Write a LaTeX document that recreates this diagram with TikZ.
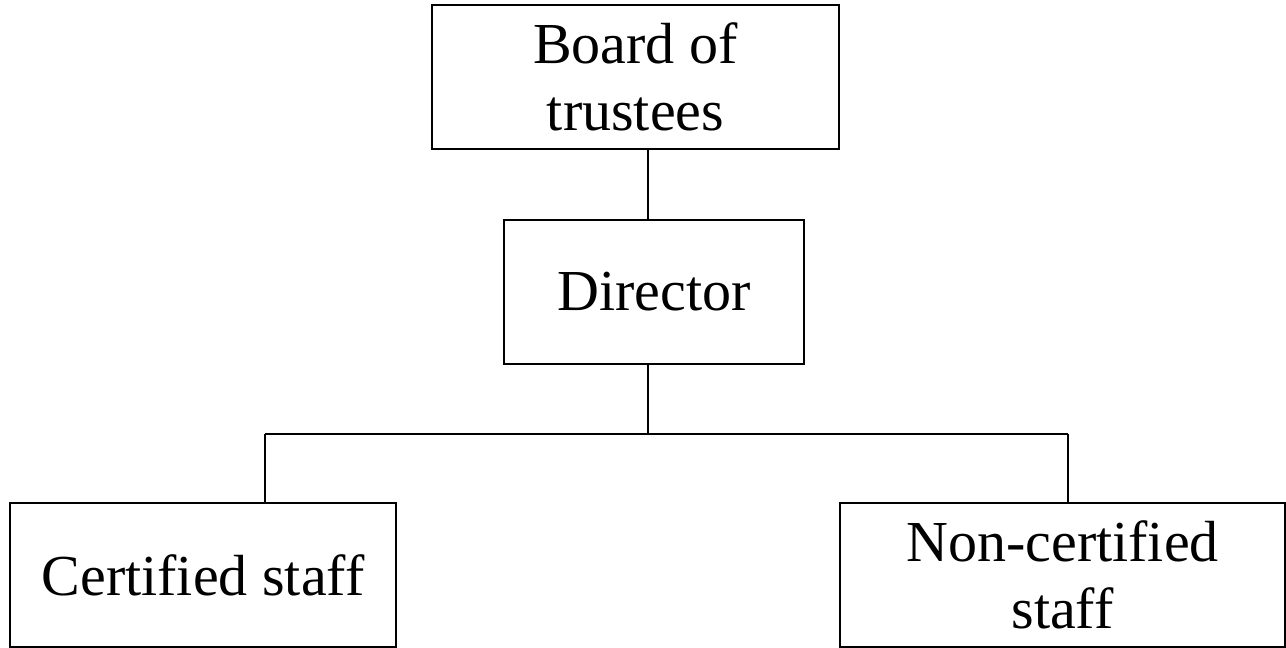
\documentclass[tikz,border=0pt]{standalone}
\usepackage{fontspec}
\setmainfont{Liberation Serif}
\begin{document}
\begin{tikzpicture}[x=1pt,y=-1pt,
  box/.style={draw=black,line width=2pt,inner sep=0pt,minimum height=144pt,align=center,font=\fontsize{58}{67}\selectfont},
  conn/.style={draw=black,line width=2pt}]
\useasboundingbox (0,0) rectangle (1286,648);
\node[box,minimum width=407pt] (board) at (635.5,77) {Board of\\trustees};
\node[box,minimum width=300pt] (dir) at (654,292) {Director};
\node[box,minimum width=386pt] (cert) at (203,575) {Certified staff};
\node[box,minimum width=445pt] (non) at (1062.5,575) {Non-certified\\staff};
\coordinate (j) at (648,434);
\coordinate (jl) at (265,434);
\coordinate (jr) at (1068,434);
\draw[conn] (board.south -| j) -- (dir.north -| j);
\draw[conn] (dir.south -| j) -- (j);
\draw[conn] (jl) -- (jr);
\draw[conn] (jl) -- (cert.north -| jl);
\draw[conn] (jr) -- (non.north -| jr);
\end{tikzpicture}
\end{document}
